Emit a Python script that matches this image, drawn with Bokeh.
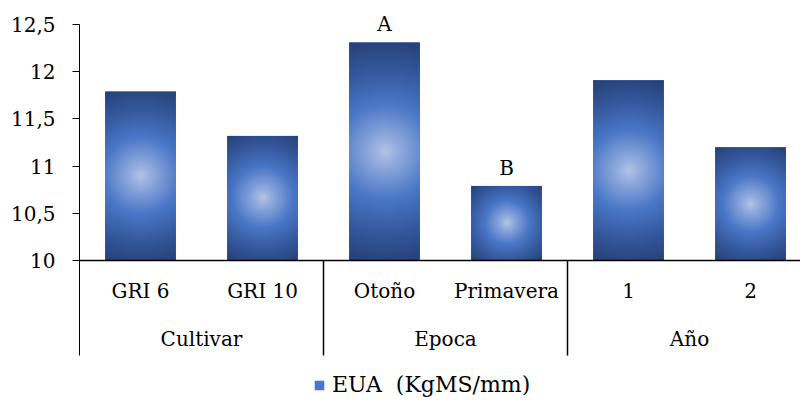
import numpy as np
from bokeh.plotting import figure
from bokeh.models import Span, FixedTicker, Legend, LegendItem
from bokeh.core.properties import value
from bokeh.embed import file_html
from bokeh.resources import INLINE

# --- data -------------------------------------------------------------
sub_labels = ["GRI 6", "GRI 10", "Otoño", "Primavera", "1", "2"]
group_labels = ["Cultivar", "Epoca", "Año"]
eua = [11.79, 11.32, 12.31, 10.79, 11.91, 11.20]
letters = ["", "", "A", "B", "", ""]
y_ticks = [10, 10.5, 11, 11.5, 12, 12.5]
y_tick_labels = ["10", "10,5", "11", "11,5", "12", "12,5"]
series_name = "EUA\u00a0 (KgMS/mm)"

# --- geometry ---------------------------------------------------------
W, H = 800, 400
LEFT = 79
PX_X = 122.0   # pixels per category slot
PX_Y = 94.4    # pixels per unit on the value axis
BASE = 10.0
BAR_W = 0.58
FONT = "DejaVu Serif"
FS = "20px"

x_end = (W - LEFT) / PX_X
y_start = BASE - 140 / PX_Y
y_end = BASE + 260 / PX_Y
sep_bottom = BASE - 95 / PX_Y

centers = [i + 0.5 for i in range(len(eua))]
group_centers = [1.0, 3.0, 5.0]

p = figure(width=W, height=H, output_backend="svg", toolbar_location=None,
           x_range=(0, x_end), y_range=(y_start, y_end),
           min_border_left=LEFT, min_border_right=0, min_border_top=0,
           min_border_bottom=0)
p.xaxis.visible = False
p.grid.visible = False
p.outline_line_color = None
p.background_fill_color = "white"

# value axis
ya = p.yaxis[0]
ya.ticker = FixedTicker(ticks=y_ticks)
ya.major_label_overrides = {t: l for t, l in zip(y_ticks, y_tick_labels)}
ya.bounds = (sep_bottom, y_ticks[-1])
ya.minor_tick_line_color = None
ya.major_tick_in = 0
ya.major_tick_out = 7
ya.major_label_standoff = 17
ya.major_label_text_font = FONT
ya.major_label_text_font_size = FS
ya.major_label_text_color = "black"
ya.axis_line_color = "black"
ya.major_tick_line_color = "black"


# radial shading for each bar, computed in screen pixels
def radial_rgba(w_px, h_px):
    h_px = max(int(round(h_px)), 1)
    w_px = max(int(round(w_px)), 1)
    ys, xs = np.mgrid[0:h_px, 0:w_px].astype(float) + 0.5
    dx = xs - w_px / 2.0
    dy = ys - h_px / 2.0
    r = np.hypot(w_px / 2.0, h_px / 2.0)
    t = np.hypot(dx, dy) / r
    stops = [0.0, 0.12, 0.42, 0.72, 1.0]
    cols = np.array([(180, 196, 230), (146, 172, 222), (74, 119, 199),
                     (52, 88, 156), (38, 64, 118)], dtype=float)
    img = np.empty((h_px, w_px), dtype=np.uint32)
    view = img.view(dtype=np.uint8).reshape((h_px, w_px, 4))
    for c in range(3):
        view[:, :, c] = np.interp(t, stops, cols[:, c]).astype(np.uint8)
    view[:, :, 3] = 255
    return img


bars = p.vbar(x=centers, top=eua, bottom=BASE, width=BAR_W,
              fill_color="#4a77c7", line_color=None)

images = [radial_rgba(BAR_W * PX_X, (v - BASE) * PX_Y) for v in eua]
p.image_rgba(image=images, x=[c - BAR_W / 2 for c in centers],
             y=[BASE] * len(eua), dw=[BAR_W] * len(eua),
             dh=[v - BASE for v in eua])

# baseline and category separators
p.add_layout(Span(location=BASE, dimension="width", line_color="black",
                  line_width=1.5))
p.segment(x0=[2, 4], y0=[sep_bottom] * 2, x1=[2, 4], y1=[BASE] * 2,
          line_color="black", line_width=1.5)

# significance letters
p.text(x=centers, y=eua, text=letters, text_align="center",
       text_baseline="bottom", y_offset=-6, text_font=value(FONT),
       text_font_size=FS, text_color="black")

# category labels
p.text(x=centers, y=[BASE - 30 / PX_Y] * len(centers), text=sub_labels,
       text_align="center", text_baseline="middle", text_font=value(FONT),
       text_font_size=FS, text_color="black")
p.text(x=group_centers, y=[BASE - 78 / PX_Y] * 3, text=group_labels,
       text_align="center", text_baseline="middle", text_font=value(FONT),
       text_font_size=FS, text_color="black")

legend = Legend(items=[LegendItem(label=series_name, renderers=[bars])],
                location=(234, 3), orientation="horizontal",
                border_line_color=None, background_fill_alpha=0,
                label_text_font=FONT, label_text_font_size="22px",
                label_text_color="black",
                glyph_width=12, glyph_height=12, label_standoff=7,
                padding=0, margin=0)
p.add_layout(legend)

open("out.html", "w").write(file_html(p, INLINE))
